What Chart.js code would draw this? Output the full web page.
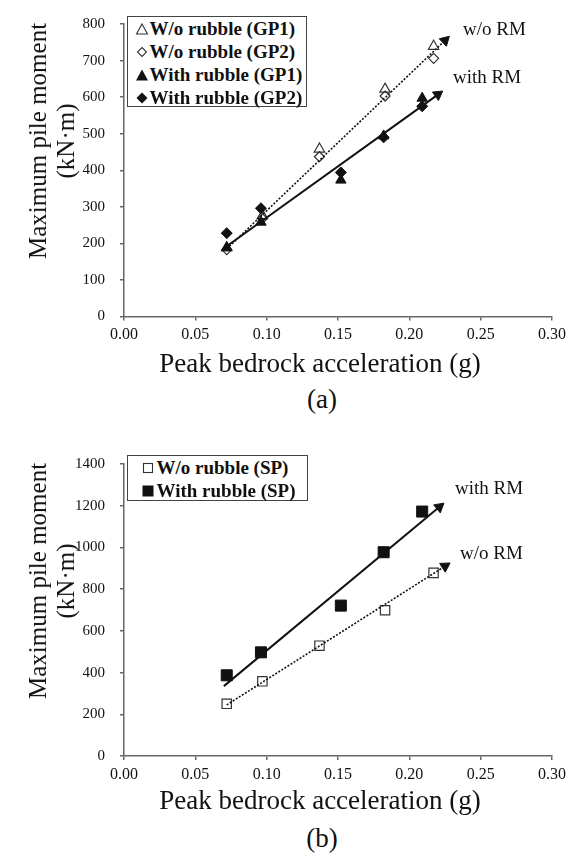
<!DOCTYPE html>
<html>
<head>
<meta charset="utf-8">
<script src="https://cdn.jsdelivr.net/npm/chart.js@4.4.0/dist/chart.umd.min.js"></script>
<style>
  body { margin: 0; background: #fff; }
  #page {
    position: relative; width: 574px; height: 855px; overflow: hidden;
    font-family: "Liberation Serif", "Times New Roman", serif; color: #111;
  }
  .panel { position: absolute; left: 0; width: 574px; height: 350px; }
  .txt { position: absolute; white-space: nowrap; line-height: 1; }
  .center { transform: translate(-50%, -50%); }
  .ytitle {
    position: absolute; white-space: nowrap; text-align: center;
    font-size: 25px; line-height: 28px;
    transform: translate(-50%, -50%) rotate(-90deg);
  }
  .xtitle { font-size: 27px; }
  .caption { font-size: 27px; }
  .note { font-size: 19px; transform: translateY(-50%); }
  .legend {
    position: absolute; box-sizing: content-box;
    border: 1.5px solid #444; background: #fff;
    font-weight: bold; font-size: 19px; line-height: 23px;
  }
  .legend div { height: 23px; white-space: nowrap; }
  .legend svg { vertical-align: -1px; }
</style>
</head>
<body>
<div id="page">
  <div class="panel" style="top:0"><canvas id="chart-a" width="574" height="350"></canvas></div>
  <div class="panel" style="top:440px"><canvas id="chart-b" width="574" height="350"></canvas></div>

  <div class="ytitle" style="left:52px; top:141px">Maximum pile moment<br>(kN·m)</div>
  <div class="txt center xtitle" style="left:320px; top:363px">Peak bedrock acceleration (g)</div>
  <div class="txt center caption" style="left:322px; top:399px">(a)</div>

  <div class="ytitle" style="left:52px; top:581px">Maximum pile moment<br>(kN·m)</div>
  <div class="txt center xtitle" style="left:320px; top:800px">Peak bedrock acceleration (g)</div>
  <div class="txt center caption" style="left:322px; top:838px">(b)</div>

  <div class="txt note" style="left:463px; top:28px">w/o RM</div>
  <div class="txt note" style="left:453px; top:76px">with RM</div>
  <div class="txt note" style="left:455px; top:487px">with RM</div>
  <div class="txt note" style="left:460px; top:552px">w/o RM</div>

  <div class="legend" id="legend-a" style="left:127px; top:16px; width:178px; height:89px"></div>
  <div class="legend" id="legend-b" style="left:127px; top:455px; width:179px; height:44px"></div>
</div>

<script>
// x values (peak bedrock acceleration, g)
const pgaWithout = [0.072, 0.097, 0.137, 0.183, 0.217];
const pgaWith = [0.072, 0.096, 0.152, 0.182, 0.209];

// (a) group piles, max moment kN·m
const gp1Without = [188, 276, 458, 622, 739];
const gp2Without = [183, 268, 437, 603, 706];
const gp1With = [188, 258, 373, 494, 597];
const gp2With = [228, 296, 394, 490, 575];

// (b) single pile
const spWithout = [250, 358, 529, 699, 878];
const spWith = [387, 497, 721, 977, 1172];

// trend arrows, start and end
const trendAWithoutX = [0.072, 0.225];
const trendAWithoutY = [185, 755];
const trendAWithX = [0.072, 0.22];
const trendAWithY = [192, 607];
const trendBWithoutX = [0.072, 0.225];
const trendBWithoutY = [245, 910];
const trendBWithX = [0.07, 0.221];
const trendBWithY = [335, 1194];

// tick labels
const xTicks = [0, 0.05, 0.1, 0.15, 0.2, 0.25, 0.3];
const yTicksA = [0, 100, 200, 300, 400, 500, 600, 700, 800];
const yTicksB = [0, 200, 400, 600, 800, 1000, 1200, 1400];

const PANEL_H = 350;
const FONT = "'Liberation Serif', 'Times New Roman', serif";

const toPoints = (xs, ys) => xs.map((x, i) => ({ x: x, y: ys[i] }));

const arrowRotation = (ctx) => {
  const chart = ctx.chart;
  const pts = chart.data.datasets[ctx.datasetIndex].data;
  const dx = chart.scales.x.getPixelForValue(pts[1].x) - chart.scales.x.getPixelForValue(pts[0].x);
  const dy = chart.scales.y.getPixelForValue(pts[1].y) - chart.scales.y.getPixelForValue(pts[0].y);
  return (Math.atan2(dy, dx) * 180) / Math.PI + 90;
};

const markerSet = (label, xs, ys, style, radius, filled) => ({
  label: label,
  data: toPoints(xs, ys),
  pointStyle: style,
  pointRadius: radius,
  pointBorderWidth: filled ? 1 : 1.2,
  pointBorderColor: filled ? "#111" : "#333",
  pointBackgroundColor: filled ? "#111" : "rgba(255,255,255,0)",
  order: filled ? 0 : 2,
});

const arrowSet = (label, xs, ys, dashed) => ({
  label: label,
  data: toPoints(xs, ys),
  showLine: true,
  borderColor: "#111",
  borderWidth: dashed ? 1.6 : 2,
  borderDash: dashed ? [2, 1.6] : [],
  pointStyle: "triangle",
  pointRadius: [0, 6],
  pointBorderWidth: 1,
  pointBorderColor: "#111",
  pointBackgroundColor: "#111",
  pointRotation: arrowRotation,
  order: 1,
});

const axisGrid = { drawOnChartArea: false, drawTicks: true, tickLength: 4, color: "#666", lineWidth: 1.5 };
const axisBorder = { display: true, color: "#666", width: 1.5 };

const makeChart = (id, datasets, yTicks, top, bottom) =>
  new Chart(document.getElementById(id), {
    type: "scatter",
    data: { datasets: datasets },
    options: {
      responsive: false,
      animation: false,
      layout: { padding: { top: top, right: 22, left: 0, bottom: 0 } },
      plugins: { legend: { display: false }, tooltip: { enabled: false } },
      scales: {
        x: {
          type: "linear",
          min: xTicks[0],
          max: xTicks[xTicks.length - 1],
          afterBuildTicks: (s) => { s.ticks = xTicks.map((v) => ({ value: v })); },
          afterFit: (s) => { s.height = PANEL_H - bottom; },
          ticks: {
            font: { family: FONT, size: 16 }, color: "#111", padding: 5,
            maxRotation: 0, autoSkip: false,
            callback: (v) => Number(v).toFixed(2),
          },
          grid: axisGrid,
          border: axisBorder,
        },
        y: {
          type: "linear",
          min: yTicks[0],
          max: yTicks[yTicks.length - 1],
          afterBuildTicks: (s) => { s.ticks = yTicks.map((v) => ({ value: v })); },
          afterFit: (s) => { s.width = 124; },
          ticks: {
            font: { family: FONT, size: 15 }, color: "#111", padding: 15, autoSkip: false,
            callback: (v) => String(v),
          },
          grid: axisGrid,
          border: axisBorder,
        },
      },
    },
  });

makeChart(
  "chart-a",
  [
    markerSet("W/o rubble (GP1)", pgaWithout, gp1Without, "triangle", 6, false),
    markerSet("W/o rubble (GP2)", pgaWithout, gp2Without, "rectRot", 5, false),
    markerSet("With rubble (GP1)", pgaWith, gp1With, "triangle", 6, true),
    markerSet("With rubble (GP2)", pgaWith, gp2With, "rectRot", 5.5, true),
    arrowSet("w/o RM", trendAWithoutX, trendAWithoutY, true),
    arrowSet("with RM", trendAWithX, trendAWithY, false),
  ],
  yTicksA, 15.5, 316.5
);

makeChart(
  "chart-b",
  [
    markerSet("W/o rubble (SP)", pgaWithout, spWithout, "rect", 6.6, false),
    markerSet("With rubble (SP)", pgaWith, spWith, "rect", 7.8, true),
    arrowSet("with RM", trendBWithX, trendBWithY, false),
    arrowSet("w/o RM", trendBWithoutX, trendBWithoutY, true),
  ],
  yTicksB, 15, 316
);

// html legends
const shapes = {
  triOpen: '<polygon points="7,2 12.5,12 1.5,12" fill="#fff" stroke="#333" stroke-width="1.1"/>',
  triFill: '<polygon points="7,1.5 13,12.5 1,12.5" fill="#111"/>',
  diaOpen: '<polygon points="7,2.5 11.5,7 7,11.5 2.5,7" fill="#fff" stroke="#333" stroke-width="1.1"/>',
  diaFill: '<polygon points="7,1.5 12.5,7 7,12.5 1.5,7" fill="#111"/>',
  sqOpen: '<rect x="2.5" y="2.5" width="9" height="9" fill="#fff" stroke="#333" stroke-width="1.1"/>',
  sqFill: '<rect x="1.5" y="1.5" width="11" height="11" fill="#111"/>',
};

const fillLegend = (id, items, indent, gap) => {
  document.getElementById(id).innerHTML = items
    .map(([shape, text]) =>
      `<div><svg width="14" height="14" style="margin-left:${indent}px;margin-right:${gap}px">${shapes[shape]}</svg>${text}</div>`)
    .join("");
};

fillLegend("legend-a", [
  ["triOpen", "W/o rubble (GP1)"],
  ["diaOpen", "W/o rubble (GP2)"],
  ["triFill", "With rubble (GP1)"],
  ["diaFill", "With rubble (GP2)"],
], 6.5, 1);

fillLegend("legend-b", [
  ["sqOpen", "W/o rubble (SP)"],
  ["sqFill", "With rubble (SP)"],
], 12.5, 2);
</script>
</body>
</html>
